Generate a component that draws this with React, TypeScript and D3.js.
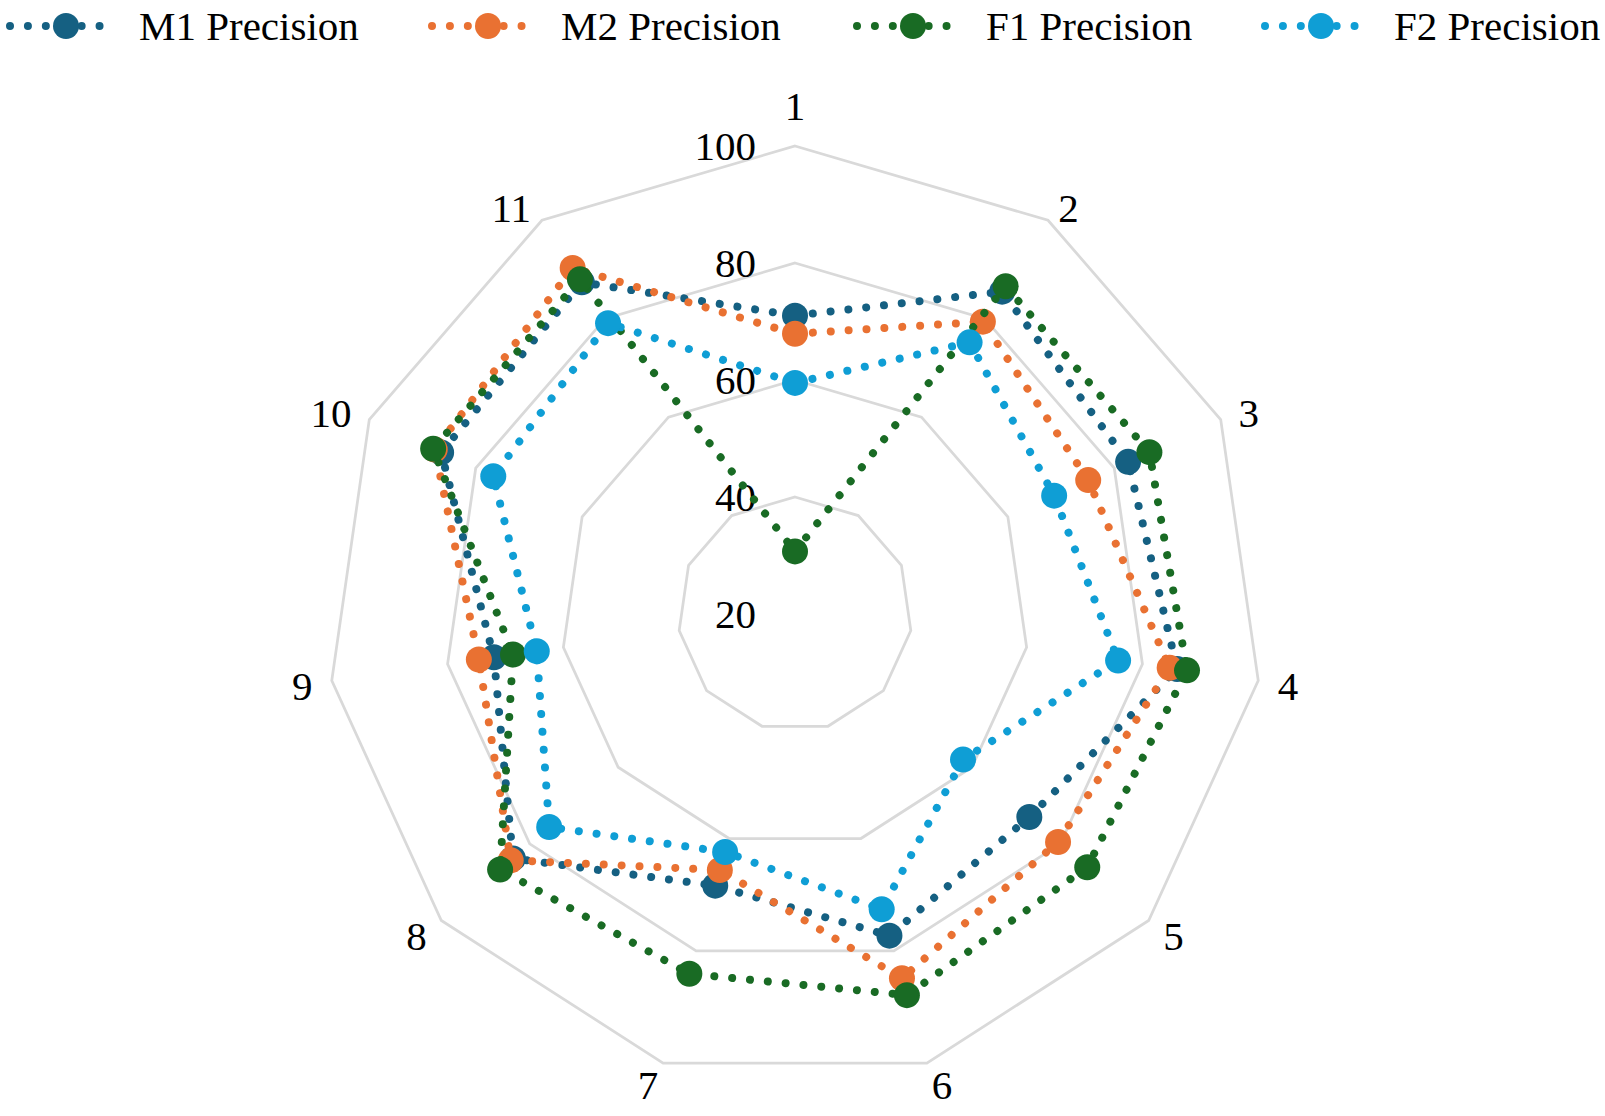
import React from 'react';
import * as d3 from 'd3';

const categories = ['1', '2', '3', '4', '5', '6', '7', '8', '9', '10', '11'];
const seriesNames = ['M1 Precision', 'M2 Precision', 'F1 Precision', 'F2 Precision'];
const m1Values = [71.0, 85.5, 82.6, 86.0, 73.0, 77.3, 68.4, 83.8, 72.0, 86.5, 87.4];
const m2Values = [67.9, 79.4, 75.1, 84.7, 79.5, 84.9, 65.6, 84.3, 74.6, 87.7, 90.3];
const f1Values = [30.7, 86.6, 86.6, 87.7, 86.1, 87.9, 84.1, 86.7, 68.7, 88.0, 88.0];
const f2Values = [59.5, 75.2, 68.7, 75.8, 58.0, 72.6, 62.4, 75.6, 64.6, 76.7, 79.1];
const tickValues = [20, 40, 60, 80, 100];
const seriesColors = ['#156082', '#E97132', '#196B24', '#0F9ED5'];

const W = 1605;
const H = 1116;
const CX = 795;
const CY = 614;
const R = 468;
const FS = 41;
const FONT = "'Liberation Serif', 'Times New Roman', Times, serif";
const legendX = [10, 432, 857, 1265];

export default function App() {
  const series = [m1Values, m2Values, f1Values, f2Values];
  const rScale = d3.scaleLinear().domain([20, 100]).range([0, R]);
  const aScale = d3.scaleLinear().domain([0, categories.length]).range([0, 2 * Math.PI]);

  const radial = d3
    .lineRadial<number>()
    .angle((_, i) => aScale(i))
    .radius((d) => rScale(d))
    .curve(d3.curveLinearClosed);

  const ringLine = (v: number) =>
    d3
      .lineRadial<string>()
      .angle((_, i) => aScale(i))
      .radius(() => rScale(v))
      .curve(d3.curveLinearClosed)(categories);

  const pt = (i: number, v: number) => {
    const a = aScale(i);
    const r = rScale(v);
    return [r * Math.sin(a), -r * Math.cos(a)];
  };

  const labelPos = (c: string, i: number) => {
    const a = aScale(i);
    const s = Math.sin(a);
    const co = Math.cos(a);
    const halfW = c.length * FS * 0.25;
    const sg = Math.abs(s) < 0.05 ? 0 : Math.sign(s);
    const x = R * s + s * 20.6 + sg * (halfW - 1);
    let y = -R * co;
    if (Math.abs(s) < 0.05 && co > 0) y -= 40.5;
    else if (co > 0) y -= co * 15;
    else y += -co * 20.4 + 2.4;
    return [x, y];
  };

  return (
    <svg width={W} height={H} style={{ position: 'absolute', left: 0, top: 0, background: '#fff' }}>
      <g transform={`translate(${CX},${CY})`}>
        {tickValues
          .filter((v) => rScale(v) > 0)
          .map((v) => (
            <path key={v} d={ringLine(v) || ''} fill="none" stroke="#D9D9D9" strokeWidth={2.75} />
          ))}
        {tickValues.map((v) => (
          <text
            key={'t' + v}
            x={-39}
            y={-rScale(v)}
            textAnchor="end"
            dominantBaseline="central"
            fontFamily={FONT}
            fontSize={FS}
            fill="#000"
          >
            {v}
          </text>
        ))}
        {categories.map((c, i) => {
          const [x, y] = labelPos(c, i);
          return (
            <text
              key={'c' + c}
              x={x}
              y={y}
              textAnchor="middle"
              dominantBaseline="central"
              fontFamily={FONT}
              fontSize={FS}
              fill="#000"
            >
              {c}
            </text>
          );
        })}
        {series.map((vals, si) => (
          <g key={'s' + si}>
            <path
              d={radial(vals) || ''}
              fill="none"
              stroke={seriesColors[si]}
              strokeWidth={8}
              strokeLinecap="round"
              strokeDasharray="0.01 17.9"
            />
            {vals.map((v, i) => {
              const [x, y] = pt(i, v);
              return <circle key={i} cx={x} cy={y} r={13} fill={seriesColors[si]} />;
            })}
          </g>
        ))}
      </g>
      <g>
        {seriesNames.map((name, si) => {
          const x0 = legendX[si];
          return (
            <g key={'l' + si} transform={`translate(${x0},26)`}>
              <line
                x1={0}
                x2={107.4}
                y1={0}
                y2={0}
                stroke={seriesColors[si]}
                strokeWidth={8}
                strokeLinecap="round"
                strokeDasharray="0.01 17.9"
              />
              <circle cx={56} cy={0} r={13} fill={seriesColors[si]} />
              <text x={129} y={0} dominantBaseline="central" fontFamily={FONT} fontSize={FS} fill="#000">
                {name}
              </text>
            </g>
          );
        })}
      </g>
    </svg>
  );
}
